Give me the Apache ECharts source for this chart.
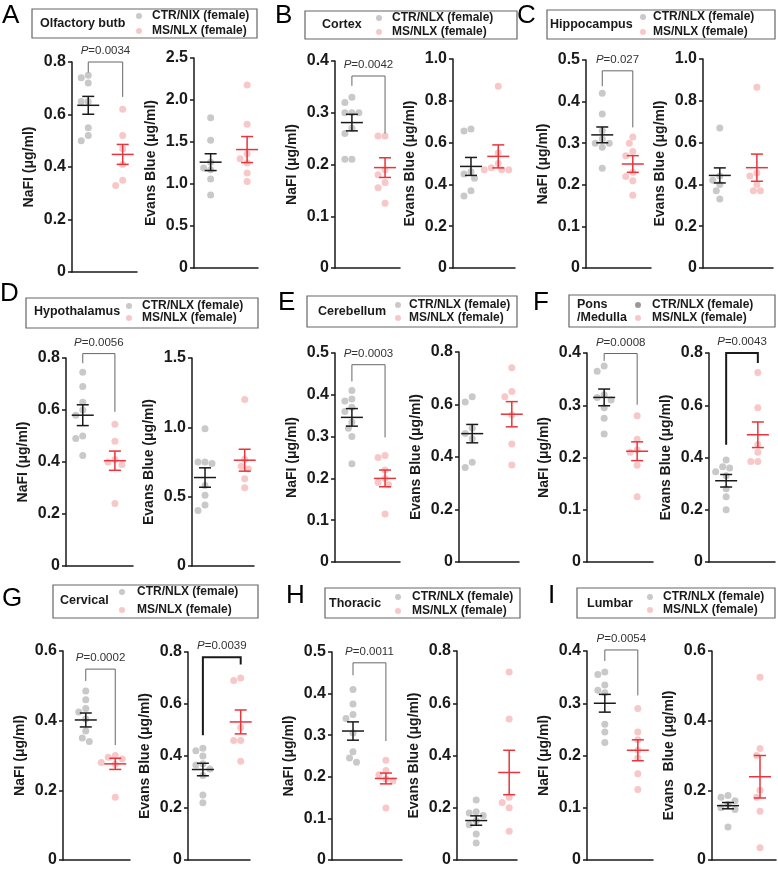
<!DOCTYPE html>
<html>
<head>
<meta charset="utf-8">
<script src="https://cdn.jsdelivr.net/npm/echarts@6/dist/echarts.min.js"></script>
<style>
html,body{margin:0;padding:0;background:#fff}
#main{width:778px;height:869px}
</style>
</head>
<body>
<div id="main"></div>
<script>
// ---- data ----
var letters = ['A','B','C','D','E','F','G','H','I'];
var regions = ['Olfactory butb','Cortex','Hippocampus','Hypothalamus','Cerebellum','Pons\n/Medulla','Cervical','Thoracic','Lumbar'];
var ctrNames = ['CTR/NlX (female)','CTR/NLX (female)','CTR/NLX (female)','CTR/NLX (female)','CTR/NLX (female)','CTR/NLX (female)','CTR/NLX (female)','CTR/NLX (female)','CTR/NLX (female)'];
var msName = 'MS/NLX (female)';

var nafMax  = [0.8, 0.4, 0.5, 0.8, 0.5, 0.4, 0.6, 0.5, 0.4];
var nafStep = [0.2, 0.1, 0.1, 0.2, 0.1, 0.1, 0.2, 0.1, 0.1];
var ebMax   = [2.5, 1.0, 1.0, 1.5, 0.8, 0.8, 0.8, 0.8, 0.6];
var ebStep  = [0.5, 0.2, 0.2, 0.5, 0.2, 0.2, 0.2, 0.2, 0.2];

var nafCtr = [
  [0.75,0.74,0.72,0.65,0.65,0.55,0.52,0.50],
  [0.33,0.32,0.30,0.30,0.30,0.27,0.26,0.21,0.21],
  [0.42,0.37,0.33,0.31,0.30,0.30,0.29,0.24],
  [0.745,0.69,0.63,0.60,0.58,0.50,0.49,0.425],
  [0.41,0.39,0.385,0.37,0.36,0.335,0.32,0.30,0.235],
  [0.375,0.365,0.32,0.315,0.31,0.295,0.275,0.245],
  [0.485,0.46,0.435,0.425,0.405,0.37,0.35,0.34],
  [0.41,0.375,0.35,0.34,0.305,0.26,0.245,0.235],
  [0.36,0.355,0.335,0.325,0.32,0.26,0.245,0.225]
];
var nafMs = [
  [0.62,0.52,0.47,0.41,0.35,0.33],
  [0.255,0.255,0.19,0.18,0.165,0.155,0.125],
  [0.315,0.30,0.28,0.27,0.23,0.22,0.21,0.175],
  [0.545,0.48,0.41,0.40,0.39,0.24],
  [0.255,0.25,0.22,0.20,0.19,0.185,0.115],
  [0.28,0.235,0.215,0.21,0.185,0.125],
  [0.30,0.295,0.29,0.28,0.275,0.18],
  [0.24,0.215,0.205,0.195,0.19,0.125],
  [0.29,0.245,0.23,0.21,0.195,0.165,0.135]
];
var nafCtrMean = [0.635,0.281,0.32,0.58,0.346,0.315,0.402,0.31,0.30];
var nafCtrSem  = [0.034,0.016,0.019,0.04,0.021,0.016,0.02,0.022,0.017];
var nafMsMean  = [0.448,0.194,0.25,0.405,0.20,0.212,0.276,0.196,0.21];
var nafMsSem   = [0.038,0.019,0.02,0.037,0.02,0.018,0.016,0.013,0.02];

var ebCtr = [
  [1.79,1.52,1.26,1.19,1.17,1.06,0.87],
  [0.665,0.655,0.46,0.45,0.43,0.37,0.345],
  [0.67,0.44,0.42,0.40,0.37,0.33],
  [0.99,0.75,0.75,0.74,0.58,0.51,0.44,0.40],
  [0.63,0.61,0.51,0.49,0.47,0.38,0.36],
  [0.39,0.365,0.36,0.345,0.33,0.28,0.25,0.20],
  [0.43,0.42,0.40,0.37,0.365,0.35,0.325,0.25,0.22],
  [0.23,0.185,0.18,0.17,0.15,0.135,0.10,0.065],
  [0.185,0.18,0.17,0.16,0.15,0.145,0.095]
];
var ebMs = [
  [2.18,1.71,1.36,1.30,1.25,1.13,1.03],
  [0.87,0.55,0.50,0.48,0.47,0.47,0.47],
  [0.865,0.455,0.44,0.40,0.37,0.37],
  [1.2,0.77,0.72,0.70,0.63,0.565],
  [0.74,0.65,0.63,0.56,0.45,0.37],
  [0.725,0.59,0.45,0.42,0.385,0.385],
  [0.70,0.69,0.51,0.46,0.46,0.38],
  [0.72,0.54,0.24,0.22,0.20,0.11],
  [0.525,0.32,0.30,0.20,0.18,0.14,0.035]
];
var ebCtrMean = [1.26,0.486,0.443,0.638,0.489,0.311,0.348,0.151,0.156];
var ebCtrSem  = [0.1,0.043,0.036,0.07,0.035,0.024,0.024,0.018,0.009];
var ebMsMean  = [1.41,0.534,0.48,0.763,0.563,0.487,0.531,0.335,0.239];
var ebMsSem   = [0.155,0.055,0.065,0.079,0.048,0.049,0.046,0.085,0.061];

var nafP = ['0.0034','0.0042','0.027','0.0056','0.0003','0.0008','0.0002','0.0011','0.0054'];
var ebP  = [null,null,null,null,null,'0.0043','0.0039',null,null];

// ---- layout ----
var gridBox = [ // left, top, width, height : NaFl, Evans for each panel
  [72,62,65,210],[194,58,64,210],
  [335,61,65,207],[453,59,62,209],
  [586,60,65,208],[703,59,70,209],
  [66,358,67,208],[192,358,62,208],
  [335,353,65,209],[459,352,60,210],
  [587,353,66,209],[709,353,66,209],
  [63,651,67,209],[188,652,62,208],
  [332,652,70,208],[457,651,60,209],
  [587,651,66,209],[712,651,64,209]
];
var groupX = [[0.25,0.78],[0.26,0.83],[0.26,0.77],[0.29,0.73],[0.25,0.72],[0.24,0.77],
  [0.25,0.73],[0.21,0.85],[0.26,0.77],[0.22,0.88],[0.26,0.76],[0.26,0.74],
  [0.34,0.78],[0.24,0.85],[0.3,0.77],[0.32,0.87],[0.27,0.77],[0.25,0.75]];
var nafBracket = [[0.8,0.76,0.667],[0.371,0.352,0.26],[0.474,0.437,0.338],[0.817,0.78,0.593],
  [0.472,0.432,0.298],[0.399,0.385,0.301],[0.548,0.514,0.33],[0.474,0.444,0.286],[0.402,0.381,0.315]];
var ebBracket = [null,null,null,null,null,[0.8,0.449,0.762],[0.78,0.48,0.752],null,null];
var legendBox = [[32,9,225,29],[305,11,212,28],[547,10,228,29],[26,298,232,30],[307,296,210,31],
  [569,295,206,32],[53,585,205,33],[325,588,195,30],[577,588,198,30]];
var legendPos = [[40,139,152,16,31],[322,379,392,18,32],[550,643,653,17,32],[34,129,142,306,318],
  [318,398,409,305,318],[577,638,652,305,318],[60,122,137,592,610],[329,398,412,597,611],[587,650,663,597,610]];
var letterPos = [[2,17],[275,17],[517,17],[0,295],[278,304],[533,304],[2,600],[286,597],[548,597]];

var FONT = 'Liberation Sans, Arial, sans-serif';
var GRAY = '#c9c9c9', PINK = '#f8c8c8', RED = '#e8343b', INK = '#1a1a1a';

// beeswarm style spread of points around a centre (layout only)
function swarm(vals, max, hpx, wpx, center) {
  var placed = [], out = [];
  var offs = [0,-3.5,3.5,-7,7,-10.5,10.5,-14,14];
  vals.forEach(function (v) {
    var y = v / max * hpx, x = 0;
    for (var k = 0; k < offs.length; k++) {
      x = offs[k];
      var ok = placed.every(function (p) { return Math.hypot(p[0] - x, p[1] - y) >= 7; });
      if (ok) break;
    }
    placed.push([x, y]);
    out.push([center + x / wpx, v]);
  });
  return out;
}

function errRender(params, api) {
  var x = api.value(0), m = api.value(1), s = api.value(2), g = api.value(3);
  var c = api.coord([x, m]), t = api.coord([x, m + s]), b = api.coord([x, m - s]);
  var st = { stroke: g ? RED : INK, lineWidth: 1.5 };
  return { type: 'group', children: [
    { type: 'line', shape: { x1: c[0] - 11, y1: c[1], x2: c[0] + 11, y2: c[1] }, style: st },
    { type: 'line', shape: { x1: c[0], y1: t[1], x2: c[0], y2: b[1] }, style: st },
    { type: 'line', shape: { x1: c[0] - 6, y1: t[1], x2: c[0] + 6, y2: t[1] }, style: st },
    { type: 'line', shape: { x1: c[0] - 6, y1: b[1], x2: c[0] + 6, y2: b[1] }, style: st }
  ]};
}

function bracketSeries(idx, xs, br, p, bold) {
  return {
    type: 'custom', xAxisIndex: idx, yAxisIndex: idx, z: 5, silent: true,
    data: [[xs[0], xs[1], br[0], br[1], br[2]]],
    encode: { x: [0, 1], y: [2, 3, 4] },
    renderItem: function (params, api) {
      var a = api.coord([api.value(0), api.value(3)]);
      var b = api.coord([api.value(0), api.value(2)]);
      var c = api.coord([api.value(1), api.value(2)]);
      var d = api.coord([api.value(1), api.value(4)]);
      return { type: 'group', children: [
        { type: 'polyline', shape: { points: [a, b, c, d] },
          style: { stroke: bold ? INK : '#666', lineWidth: bold ? 2 : 1, fill: null } },
        { type: 'text', style: { x: (b[0] + c[0]) / 2, y: b[1] - 11, text: '{i|P}=' + p,
          align: 'center', verticalAlign: 'middle', fill: '#333', font: '11.5px ' + FONT,
          rich: { i: { fontStyle: 'italic', fontSize: 11.5, fontFamily: FONT, fill: '#333' } } } }
      ]};
    }
  };
}

var grids = [], xAxes = [], yAxes = [], series = [], graphics = [];

function addChart(idx, max, step, name, ctr, ms, cm, cs, mm, msem) {
  var gb = gridBox[idx], gx = groupX[idx];
  grids.push({ left: gb[0], top: gb[1], width: gb[2], height: gb[3] });
  xAxes.push({ gridIndex: idx, type: 'value', min: 0, max: 1,
    axisLine: { show: true, onZero: false, lineStyle: { color: INK, width: 1.5 } },
    axisTick: { show: false }, axisLabel: { show: false }, splitLine: { show: false } });
  yAxes.push({ gridIndex: idx, type: 'value', min: 0, max: max, interval: step,
    name: name, nameLocation: 'middle', nameGap: 36,
    nameTextStyle: { fontFamily: FONT, fontWeight: 'bold', fontSize: 14, color: INK },
    axisLine: { show: true, lineStyle: { color: INK, width: 1.5 } },
    axisTick: { show: true, length: 4, lineStyle: { color: INK, width: 1.5 } },
    axisLabel: { margin: 6, fontFamily: FONT, fontWeight: 'bold', fontSize: 16, color: INK,
      formatter: function (v) { return v === 0 ? '0' : v.toFixed(1); } },
    splitLine: { show: false } });
  series.push({ type: 'scatter', xAxisIndex: idx, yAxisIndex: idx, symbolSize: 7, silent: true,
    itemStyle: { color: GRAY, opacity: 1 }, data: swarm(ctr, max, gb[3], gb[2], gx[0]) });
  series.push({ type: 'scatter', xAxisIndex: idx, yAxisIndex: idx, symbolSize: 7, silent: true,
    itemStyle: { color: PINK, opacity: 1 }, data: swarm(ms, max, gb[3], gb[2], gx[1]) });
  series.push({ type: 'custom', xAxisIndex: idx, yAxisIndex: idx, z: 4, silent: true,
    data: [[gx[0], cm, cs, 0], [gx[1], mm, msem, 1]],
    encode: { x: 0, y: 1 }, renderItem: errRender });
}

for (var i = 0; i < 9; i++) {
  var ni = i * 2, ei = i * 2 + 1;
  addChart(ni, nafMax[i], nafStep[i], 'NaFI (μg/ml)', nafCtr[i], nafMs[i],
    nafCtrMean[i], nafCtrSem[i], nafMsMean[i], nafMsSem[i]);
  series.push(bracketSeries(ni, groupX[ni], nafBracket[i], nafP[i], false));
  addChart(ei, ebMax[i], ebStep[i], i === 8 ? 'Evans  Blue (μg/ml)' : 'Evans Blue (μg/ml)', ebCtr[i], ebMs[i],
    ebCtrMean[i], ebCtrSem[i], ebMsMean[i], ebMsSem[i]);
  if (ebP[i]) series.push(bracketSeries(ei, groupX[ei], ebBracket[i], ebP[i], true));

  // panel letter
  graphics.push({ type: 'text', left: letterPos[i][0], top: letterPos[i][1] - 14,
    style: { text: letters[i], font: '26px ' + FONT, fill: '#000' } });
  // legend box
  var lb = legendBox[i], lp = legendPos[i];
  graphics.push({ type: 'rect', shape: { x: lb[0], y: lb[1], width: lb[2], height: lb[3] },
    style: { fill: null, stroke: '#666', lineWidth: 1.2 } });
  graphics.push({ type: 'text', x: lp[0], y: (lp[3] + lp[4]) / 2,
    style: { text: regions[i], font: 'bold 12.5px ' + FONT, fill: INK, verticalAlign: 'middle', lineHeight: 13 } });
  graphics.push({ type: 'circle', shape: { cx: lp[1], cy: lp[3], r: 3 }, style: { fill: i === 5 ? '#999' : GRAY } });
  graphics.push({ type: 'circle', shape: { cx: lp[1], cy: lp[4], r: 3 }, style: { fill: PINK } });
  graphics.push({ type: 'text', x: lp[2], y: lp[3],
    style: { text: ctrNames[i], font: 'bold 12px ' + FONT, fill: INK, verticalAlign: 'middle' } });
  graphics.push({ type: 'text', x: lp[2], y: lp[4],
    style: { text: msName, font: 'bold 12px ' + FONT, fill: INK, verticalAlign: 'middle' } });
}

var chart = echarts.init(document.getElementById('main'));
chart.setOption({
  backgroundColor: '#fff',
  animation: false,
  grid: grids,
  xAxis: xAxes,
  yAxis: yAxes,
  series: series,
  graphic: graphics
});
</script>
</body>
</html>
